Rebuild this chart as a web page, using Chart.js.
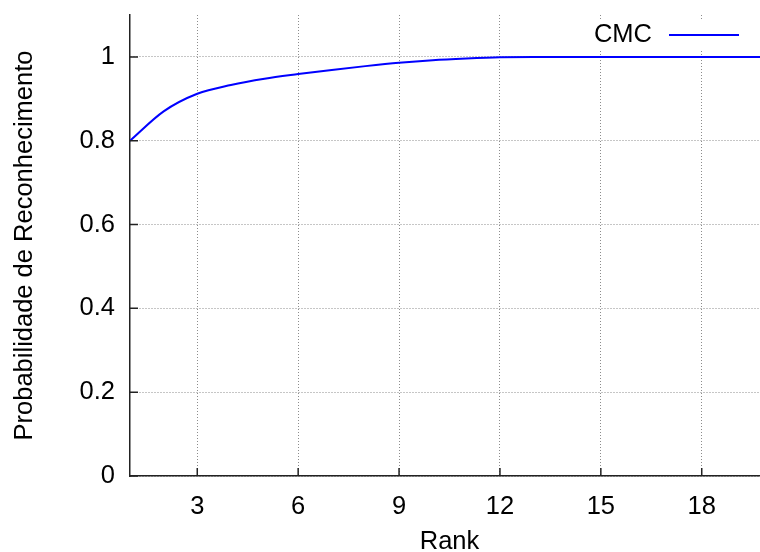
<!DOCTYPE html>
<html lang="pt">
  <head>
    <meta charset="UTF-8" />
    <title>CMC</title>
    <script src="https://cdn.jsdelivr.net/npm/chart.js"></script>
    <style>
      html, body { margin: 0; padding: 0; background: #fff; overflow: hidden; }
      /* o grafico original continua um pouco alem da borda direita */
      #wrap { width: 760px; height: 552px; overflow: hidden; }
    </style>
  </head>
  <body>
    <div id="wrap"><canvas id="myChart" width="769" height="552"></canvas></div>
    <script>
      // dados
      var ranks = [1, 2, 3, 4, 5, 6, 7, 8, 9, 10, 11, 12, 13, 14, 15, 16, 17, 18, 19, 20];
      var cmc = [0.800, 0.870, 0.912, 0.933, 0.948, 0.959, 0.969, 0.978, 0.986, 0.992,
                 0.996, 0.999, 1, 1, 1, 1, 1, 1, 1, 1];
      var xTicks = [3, 6, 9, 12, 15, 18];
      var yTicks = [0, 0.2, 0.4, 0.6, 0.8, 1];
      var yTickLabels = ["0", "0.2", "0.4", "0.6", "0.8", "1"];

      var fonte = { family: "'Liberation Sans', Arial, sans-serif", size: 25.5 };
      var corEixo = "#222";

      // legenda estilo gnuplot: texto e depois a linha
      var legendaGnuplot = {
        id: "legendaGnuplot",
        afterDraw: function (chart) {
          var ctx = chart.ctx;
          var area = chart.chartArea;
          var ds = chart.data.datasets[0];
          var yc = area.top + 20;
          var x1 = area.right - 100;
          var x2 = area.right - 30;
          ctx.save();
          ctx.fillStyle = "#fff";
          ctx.fillRect(x1 - 80, yc - 14, x2 - x1 + 90, 28);
          ctx.font = fonte.size + "px " + fonte.family;
          ctx.fillStyle = "#000";
          ctx.textAlign = "right";
          ctx.textBaseline = "middle";
          ctx.fillText(ds.label, x1 - 17, yc);
          ctx.strokeStyle = ds.borderColor;
          ctx.lineWidth = 2;
          ctx.beginPath();
          ctx.moveTo(x1, yc);
          ctx.lineTo(x2, yc);
          ctx.stroke();
          ctx.restore();
        },
      };

      // tiques curtos para dentro, como no gnuplot
      var tiques = {
        id: "tiques",
        afterDatasetsDraw: function (chart) {
          var ctx = chart.ctx;
          var area = chart.chartArea;
          var sx = chart.scales.x;
          var sy = chart.scales.y;
          ctx.save();
          ctx.strokeStyle = corEixo;
          ctx.lineWidth = 1.5;
          ctx.beginPath();
          xTicks.forEach(function (v) {
            var px = sx.getPixelForValue(v);
            ctx.moveTo(px, area.bottom);
            ctx.lineTo(px, area.bottom - 8);
          });
          yTicks.forEach(function (v) {
            var py = sy.getPixelForValue(v);
            ctx.moveTo(area.left, py);
            ctx.lineTo(area.left + 8, py);
          });
          ctx.stroke();
          ctx.restore();
        },
      };

      const ctx = document.getElementById("myChart");
      new Chart(ctx, {
        type: "line",
        data: {
          datasets: [
            {
              label: "CMC",
              data: ranks.map((r, i) => ({ x: r, y: cmc[i] })),
              borderColor: "#0000ff",
              backgroundColor: "#0000ff",
              borderWidth: 2,
              pointRadius: 0,
              cubicInterpolationMode: "monotone",
            },
          ],
        },
        options: {
          responsive: false,
          animation: false,
          devicePixelRatio: 1,
          layout: { padding: { top: 15, left: 0, right: 0, bottom: 0 } },
          plugins: {
            legend: { display: false },
            tooltip: { enabled: false },
          },
          scales: {
            x: {
              type: "linear",
              min: 1,
              max: 20,
              afterBuildTicks: function (scale) {
                scale.ticks = xTicks.map((v) => ({ value: v }));
              },
              afterFit: function (scale) {
                scale.height = 76;
                scale.paddingLeft = 0;
                scale.paddingRight = 0;
              },
              ticks: {
                font: fonte,
                color: "#000",
                padding: 16,
                maxRotation: 0,
                callback: (v) => String(v),
              },
              grid: {
                color: "#8c8c8c",
                lineWidth: 1,
                drawTicks: false,
              },
              border: { display: true, color: corEixo, width: 1.5, dash: [1, 2] },
              title: {
                display: true,
                text: "Rank",
                color: "#000",
                font: { family: fonte.family, size: fonte.size, lineHeight: 0.8 },
                padding: { top: 0, bottom: 0 },
              },
            },
            y: {
              min: 0,
              max: 1.1,
              afterBuildTicks: function (scale) {
                scale.ticks = yTicks.map((v) => ({ value: v }));
              },
              afterFit: function (scale) {
                scale.width = 130;
                scale.paddingTop = 0;
                scale.paddingBottom = 0;
              },
              ticks: {
                font: fonte,
                color: "#000",
                padding: 15,
                callback: function (v) {
                  var i = yTicks.indexOf(v);
                  return i >= 0 ? yTickLabels[i] : "";
                },
              },
              grid: {
                color: "#8c8c8c",
                lineWidth: 1,
                drawTicks: false,
              },
              border: { display: true, color: corEixo, width: 1.5, dash: [1, 2] },
              title: {
                display: true,
                text: "Probabilidade de Reconhecimento",
                color: "#000",
                font: { family: fonte.family, size: fonte.size, lineHeight: 0.8 },
                padding: { top: 14.5, bottom: 0 },
              },
            },
          },
        },
        plugins: [tiques, legendaGnuplot],
      });
    </script>
  </body>
</html>
